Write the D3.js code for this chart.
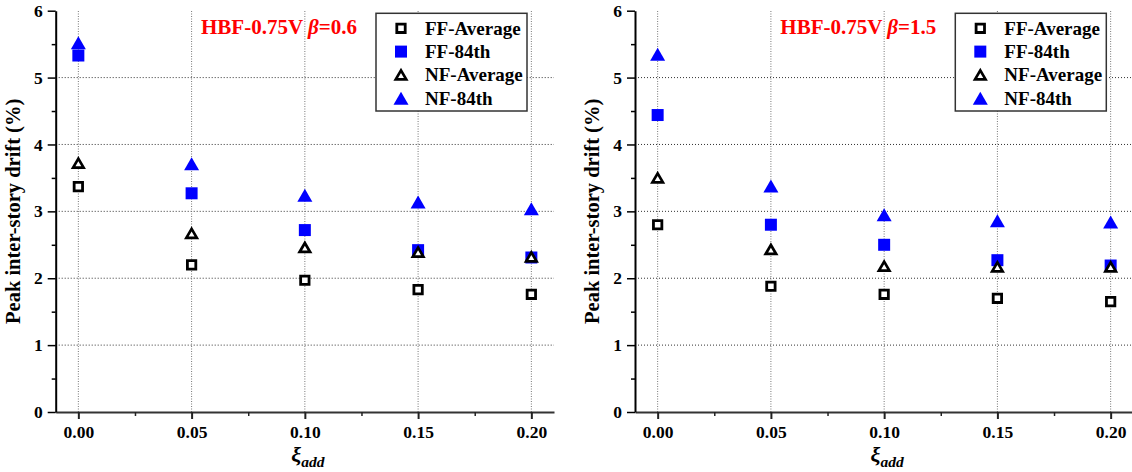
<!DOCTYPE html>
<html>
<head>
<meta charset="utf-8">
<script src="https://cdn.jsdelivr.net/npm/d3@7"></script>
<style>
  html, body { margin: 0; padding: 0; background: #fff; }
  svg { display: block; }
  text { font-family: "Liberation Serif", "Times New Roman", serif; font-weight: bold; }
</style>
</head>
<body>
<svg id="chart" width="1132" height="472"></svg>
<script>
// Added damping ratio (x values)
const xiAdd = [0.00, 0.05, 0.10, 0.15, 0.20];

// β = 0.6
const ffAvg06 = [3.37, 2.20, 1.97, 1.83, 1.76];
const ff84_06 = [5.33, 3.27, 2.72, 2.42, 2.31];
const nfAvg06 = [3.72, 2.67, 2.46, 2.39, 2.32];
const nf84_06 = [5.52, 3.71, 3.24, 3.14, 3.04];

// β = 1.5
const ffAvg15 = [2.80, 1.88, 1.76, 1.70, 1.65];
const ff84_15 = [4.44, 2.80, 2.50, 2.27, 2.19];
const nfAvg15 = [3.50, 2.43, 2.18, 2.17, 2.17];
const nf84_15 = [5.35, 3.38, 2.95, 2.86, 2.84];

const seriesNames = ["FF-Average", "FF-84th", "NF-Average", "NF-84th"];
const xTicks = [0.00, 0.05, 0.10, 0.15, 0.20];
const xMinorTicks = [0.025, 0.075, 0.125, 0.175];
const yTicks = [0, 1, 2, 3, 4, 5, 6];
const yMinorTicks = [0.5, 1.5, 2.5, 3.5, 4.5, 5.5];

const panels = [
  { left: 55.7, beta: "0.6", series: [ffAvg06, ff84_06, nfAvg06, nf84_06] },
  { left: 635,  beta: "1.5", series: [ffAvg15, ff84_15, nfAvg15, nf84_15] }
];

const plotW = 498.3, plotTop = 10.7, plotBottom = 412;
const svg = d3.select("#chart");

// marker styles: hollow square, filled blue square, hollow triangle, filled blue triangle
function squarePath(s) { const h = s / 2; return `M${-h},${-h}H${h}V${h}H${-h}Z`; }
function triPath(w, h) { return `M0,${-h / 2}L${w / 2},${h / 2}L${-w / 2},${h / 2}Z`; }
const markers = [
  { d: squarePath(8.4), fill: "#fff", stroke: "#000", sw: 2.8 },
  { d: squarePath(12), fill: "#0000ff", stroke: "none", sw: 0 },
  { d: triPath(10.5, 9), fill: "#fff", stroke: "#000", sw: 2.7 },
  { d: triPath(15, 13), fill: "#0000ff", stroke: "none", sw: 0 }
];

panels.forEach(p => {
  const g = svg.append("g").attr("transform", `translate(${p.left},0)`);
  const x = d3.scaleLinear().domain([-0.01, 0.21]).range([0, plotW]);
  const y = d3.scaleLinear().domain([0, 6]).range([plotBottom, plotTop]);

  // grid
  g.append("g").selectAll("line").data([1, 2, 3, 4, 5]).join("line")
    .attr("x1", 0).attr("x2", plotW).attr("y1", d => y(d)).attr("y2", d => y(d))
    .attr("stroke", "#333").attr("stroke-width", 1).attr("stroke-dasharray", "1,2");
  g.append("g").selectAll("line").data(xTicks).join("line")
    .attr("x1", d => x(d)).attr("x2", d => x(d)).attr("y1", y(0)).attr("y2", y(6))
    .attr("stroke", "#777").attr("stroke-width", 1).attr("stroke-dasharray", "1,1.5");

  // x axis
  const xa = g.append("g").attr("transform", `translate(0,${plotBottom})`)
    .call(d3.axisBottom(x).tickValues(xTicks).tickFormat(d3.format(".2f")).tickSize(7).tickSizeOuter(0).tickPadding(7));
  xa.select(".domain").attr("stroke", "#333").attr("stroke-width", 2);
  xa.selectAll(".tick line").attr("stroke", "#222").attr("stroke-width", 2);
  xa.selectAll("text").attr("font-size", 17.5).attr("fill", "#000")
    .attr("font-family", "Liberation Serif").attr("font-weight", "bold");
  const xm = g.append("g").attr("transform", `translate(0,${plotBottom})`)
    .call(d3.axisBottom(x).tickValues(xMinorTicks).tickFormat("").tickSize(4).tickSizeOuter(0));
  xm.select(".domain").remove();
  xm.selectAll(".tick line").attr("stroke", "#222").attr("stroke-width", 1.5);

  // y axis
  const ya = g.append("g")
    .call(d3.axisLeft(y).tickValues(yTicks).tickFormat(d3.format("d")).tickSize(8).tickSizeOuter(0).tickPadding(5));
  ya.select(".domain").attr("stroke", "#000").attr("stroke-width", 2);
  ya.selectAll(".tick line").attr("stroke", "#000").attr("stroke-width", 1.5);
  ya.selectAll("text").attr("font-size", 17.5).attr("fill", "#000")
    .attr("font-family", "Liberation Serif").attr("font-weight", "bold");
  const ym = g.append("g")
    .call(d3.axisLeft(y).tickValues(yMinorTicks).tickFormat("").tickSize(4).tickSizeOuter(0));
  ym.select(".domain").remove();
  ym.selectAll(".tick line").attr("stroke", "#000").attr("stroke-width", 1.5);

  // axis titles
  g.append("text")
    .attr("transform", `translate(${-36},${(plotTop + plotBottom) / 2}) rotate(-90)`)
    .attr("text-anchor", "middle").attr("font-size", 20.5).attr("fill", "#000")
    .text("Peak inter-story drift (%)");
  const xl = g.append("text").attr("x", x(0.10) + 3).attr("y", 462)
    .attr("text-anchor", "middle").attr("fill", "#000");
  xl.append("tspan").attr("font-size", 22).attr("font-style", "italic").text("ξ");
  xl.append("tspan").attr("font-size", 15.5).attr("font-style", "italic")
    .attr("dy", 5).text("add");

  // data points
  p.series.forEach((vals, i) => {
    const m = markers[i];
    g.append("g").selectAll("path").data(vals).join("path")
      .attr("transform", (d, j) => `translate(${x(xiAdd[j])},${y(d)})`)
      .attr("d", m.d).attr("fill", m.fill).attr("stroke", m.stroke)
      .attr("stroke-width", m.sw).attr("stroke-linejoin", "miter");
  });

  // panel title
  const t = g.append("text").attr("x", 145.3).attr("y", 34).attr("font-size", 21).attr("fill", "#ff0000");
  t.append("tspan").text("HBF-0.75V ");
  t.append("tspan").attr("font-style", "italic").text("β");
  t.append("tspan").text("=" + p.beta);

  // legend
  const lg = g.append("g").attr("transform", "translate(320.3,13.3)");
  lg.append("rect").attr("width", 151).attr("height", 97.7)
    .attr("fill", "#fff").attr("stroke", "#333").attr("stroke-width", 1.5);
  seriesNames.forEach((name, i) => {
    const cy = 15 + i * 23.3;
    const m = markers[i];
    lg.append("path").attr("transform", `translate(25,${cy})`)
      .attr("d", m.d).attr("fill", m.fill).attr("stroke", m.stroke).attr("stroke-width", m.sw);
    lg.append("text").attr("x", 49).attr("y", cy + 6.5).attr("font-size", 19).attr("fill", "#000").text(name);
  });
});
</script>
</body>
</html>
